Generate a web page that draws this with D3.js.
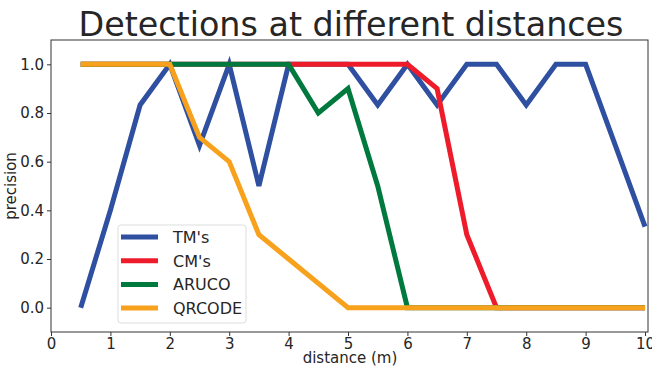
<!DOCTYPE html>
<html>
<head>
<meta charset="utf-8">
<script src="https://cdn.jsdelivr.net/npm/d3@7"></script>
<style>
  body { margin: 0; background: #fff; }
  svg { display: block; font-family: "DejaVu Sans", sans-serif; }
  .tick text { fill: #262626; }
</style>
</head>
<body>
<svg id="chart" width="652" height="370"></svg>
<script>
const distances = [0.5,1,1.5,2,2.5,3,3.5,4,4.5,5,5.5,6,6.5,7,7.5,8,8.5,9,9.5,10];
const tmValues    = [0,0.4,0.833,1,0.667,1,0.5,1,1,1,0.833,1,0.833,1,1,0.833,1,1,0.667,0.333];
const cmValues    = [1,1,1,1,1,1,1,1,1,1,1,1,0.9,0.3,0,0,0,0,0,0];
const arucoValues = [1,1,1,1,1,1,1,1,0.8,0.9,0.5,0,0,0,0,0,0,0,0,0];
const qrValues    = [1,1,1,1,0.7,0.6,0.3,0.2,0.1,0,0,0,0,0,0,0,0,0,0,0];
const seriesNames = ["TM's","CM's","ARUCO","QRCODE"];
const seriesColors = ["#2f4fa0","#ee1c2b","#00793f","#f8a11c"];
const xTicks = [0,1,2,3,4,5,6,7,8,9,10];
const yTicks = [0,0.2,0.4,0.6,0.8,1.0];

const series = [tmValues, cmValues, arucoValues, qrValues].map((v,i) => ({
  name: seriesNames[i], color: seriesColors[i],
  points: distances.map((d,j) => [d, v[j]])
}));

const svg = d3.select("#chart");
const m = {left: 51, right: 4, top: 40, bottom: 38};
const W = 652, H = 370;
const x = d3.scaleLinear().domain([0, 10.05]).range([m.left, W - m.right]);
const y = d3.scaleLinear().domain([-0.1, 1.1]).range([H - m.bottom, m.top]);

// title
svg.append("text")
  .attr("x", 351).attr("y", 36)
  .attr("text-anchor", "middle")
  .attr("font-size", 33.3)
  .attr("textLength", 545).attr("lengthAdjust", "spacingAndGlyphs")
  .attr("fill", "#262626")
  .text("Detections at different distances");

// lines
const line = d3.line().x(d => x(d[0])).y(d => y(d[1]));
const g = svg.append("g");
series.forEach(s => {
  g.append("path").datum(s.points)
    .attr("d", line)
    .attr("fill", "none")
    .attr("stroke", s.color)
    .attr("stroke-width", 5)
    .attr("stroke-linejoin", "miter")
    .attr("stroke-linecap", "butt");
});

// axes
const xAxis = svg.append("g").attr("transform", `translate(0,${H - m.bottom})`)
  .call(d3.axisBottom(x).tickValues(xTicks).tickFormat(d3.format("d")).tickSize(4).tickPadding(2));
const yAxis = svg.append("g").attr("transform", `translate(${m.left},0)`)
  .call(d3.axisLeft(y).tickValues(yTicks).tickFormat(d3.format(".1f")).tickSize(4).tickPadding(3));
[xAxis, yAxis].forEach(a => {
  a.selectAll("text").attr("font-size", 15).attr("font-family", "DejaVu Sans");
  a.selectAll("line").attr("stroke", "#333");
  a.select(".domain").remove();
});

// frame
svg.append("rect")
  .attr("x", m.left).attr("y", m.top)
  .attr("width", W - m.right - m.left).attr("height", H - m.bottom - m.top)
  .attr("fill", "none").attr("stroke", "#333").attr("stroke-width", 1);

// axis labels
svg.append("text")
  .attr("x", 350).attr("y", 363)
  .attr("text-anchor", "middle").attr("font-size", 15).attr("fill", "#262626")
  .text("distance (m)");
svg.append("text")
  .attr("transform", `translate(15.5,${(m.top + H - m.bottom)/2}) rotate(-90)`)
  .attr("text-anchor", "middle").attr("font-size", 15).attr("fill", "#262626")
  .text("precision");

// legend
const lg = svg.append("g");
lg.append("rect")
  .attr("x", 118).attr("y", 225).attr("width", 128).attr("height", 98)
  .attr("rx", 3).attr("fill", "#fff").attr("fill-opacity", 0.8)
  .attr("stroke", "#ddd");
series.forEach((s, i) => {
  const yy = 237 + i * 23.7;
  lg.append("line").attr("x1", 121).attr("x2", 158).attr("y1", yy).attr("y2", yy)
    .attr("stroke", s.color).attr("stroke-width", 5);
  lg.append("text").attr("x", 173).attr("y", yy + 6)
    .attr("font-size", 16).attr("fill", "#262626").text(s.name);
});
</script>
</body>
</html>
